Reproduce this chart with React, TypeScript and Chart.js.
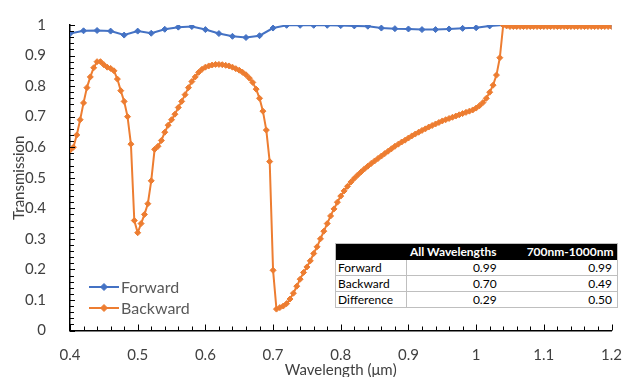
import React, { useEffect, useRef } from 'react';
import { Chart, registerables } from 'chart.js';

Chart.register(...registerables);

// ---------- DATA ----------
const forwardWavelengths = [
  0.40, 0.42, 0.44, 0.46, 0.48, 0.50, 0.52, 0.54, 0.56, 0.58,
  0.60, 0.62, 0.64, 0.66, 0.68, 0.70, 0.72, 0.74, 0.76, 0.78,
  0.80, 0.82, 0.84, 0.86, 0.88, 0.90, 0.92, 0.94, 0.96, 0.98,
  1.00, 1.02, 1.04, 1.06, 1.08, 1.10, 1.12, 1.14, 1.16, 1.18,
  1.20,
];
const forwardValues = [
  0.972, 0.981, 0.982, 0.980, 0.967, 0.980, 0.973, 0.986, 0.993, 0.995,
  0.985, 0.972, 0.963, 0.959, 0.965, 0.990, 0.999, 0.999, 0.999, 0.999,
  0.998, 0.997, 0.996, 0.990, 0.988, 0.987, 0.985, 0.985, 0.987, 0.989,
  0.991, 0.997, 1.000, 0.997, 0.997, 0.997, 0.997, 0.997, 0.997, 0.997,
  0.997,
];

// Backward sampled every 0.005 µm from 0.4 to 1.2
const backwardStart = 0.4;
const backwardStep = 0.005;
const backwardValues = [
  0.59, 0.60, 0.64, 0.69, 0.745, 0.795, 0.83, 0.86, 0.88, 0.88,
  0.87, 0.862, 0.858, 0.85, 0.823, 0.785, 0.75, 0.70, 0.61, 0.36,
  0.32, 0.35, 0.38, 0.415, 0.49, 0.593, 0.603, 0.622, 0.649, 0.672,
  0.69, 0.708, 0.73, 0.75, 0.772, 0.795, 0.815, 0.83, 0.845, 0.855,
  0.862, 0.866, 0.869, 0.871, 0.871, 0.87, 0.868, 0.866, 0.862, 0.857,
  0.852, 0.845, 0.837, 0.826, 0.812, 0.79, 0.76, 0.718, 0.656, 0.553,
  0.197, 0.07, 0.075, 0.08, 0.088, 0.103, 0.122, 0.145, 0.168, 0.19,
  0.208, 0.228, 0.252, 0.274, 0.30, 0.325, 0.35, 0.375, 0.398, 0.42,
  0.44, 0.457, 0.472, 0.486, 0.498, 0.509, 0.519, 0.529, 0.538, 0.547,
  0.555, 0.563, 0.571, 0.579, 0.587, 0.595, 0.603, 0.61, 0.617, 0.623,
  0.63, 0.637, 0.643, 0.649, 0.655, 0.66, 0.666, 0.671, 0.676, 0.681,
  0.686, 0.69, 0.694, 0.698, 0.702, 0.706, 0.71, 0.714, 0.718, 0.722,
  0.728, 0.736, 0.746, 0.76, 0.78, 0.803, 0.836, 0.893, 1.0, 0.997,
  0.995, 0.995, 0.995, 0.995, 0.995, 0.995, 0.995, 0.995, 0.995, 0.995,
  0.995, 0.995, 0.995, 0.995, 0.995, 0.995, 0.995, 0.995, 0.995, 0.995,
  0.995, 0.995, 0.995, 0.995, 0.995, 0.995, 0.995, 0.995, 0.995, 0.995,
  0.995,
];
const backwardWavelengths = backwardValues.map(
  (_, i) => Math.round((backwardStart + i * backwardStep) * 1000) / 1000
);

const seriesNames = ['Forward', 'Backward'];
const seriesColors = ['#4472C4', '#ED7D31'];

const tableHeaders = ['', 'All Wavelengths', '700nm-1000nm'];
const tableRowNames = ['Forward', 'Backward', 'Difference'];
const tableAllWavelengths = ['0.99', '0.70', '0.29'];
const table700to1000 = ['0.99', '0.49', '0.50'];

const xTitle = 'Wavelength (\u03bcm)';
const yTitle = 'Transmission';

// ---------- HELPERS ----------
const FONT = 'Lato, "Open Sans", sans-serif';
const TEXT = '#404040';
const isMajor = (v: number) => Math.abs(v * 10 - Math.round(v * 10)) < 1e-6;
const fmt = (v: number) => String(Math.round(v * 10) / 10);

const innerTicks = {
  id: 'innerTicks',
  afterDraw(chart: any) {
    const { ctx, chartArea: a } = chart;
    const xs = chart.scales.x;
    const ys = chart.scales.y;
    ctx.save();
    ctx.strokeStyle = '#000';
    ctx.lineWidth = 1;
    xs.ticks.forEach((t: any) => {
      const px = Math.round(xs.getPixelForValue(t.value)) + 0.5;
      const len = isMajor(t.value) ? 6 : 4;
      ctx.beginPath();
      ctx.moveTo(px, a.bottom);
      ctx.lineTo(px, a.bottom - len);
      ctx.stroke();
    });
    ys.ticks.forEach((t: any) => {
      const py = Math.round(ys.getPixelForValue(t.value)) + 0.5;
      const len = isMajor(t.value) ? 5 : 4;
      ctx.beginPath();
      ctx.moveTo(a.left, py);
      ctx.lineTo(a.left + len, py);
      ctx.stroke();
    });
    ctx.restore();
  },
};

function LegendMarker({ color }: { color: string }) {
  return (
    <svg width={30} height={12} style={{ display: 'block' }}>
      <line x1={0} y1={6} x2={30} y2={6} stroke={color} strokeWidth={2} />
      <polygon points="15,2.5 18.5,6 15,9.5 11.5,6" fill={color} stroke={color} strokeWidth={1} />
    </svg>
  );
}

export default function App() {
  const canvasRef = useRef<HTMLCanvasElement | null>(null);

  useEffect(() => {
    document.body.style.margin = '0';
    const canvas = canvasRef.current;
    if (!canvas) return;
    const chart = new Chart(canvas, {
      type: 'line',
      data: {
        datasets: [
          {
            label: seriesNames[0],
            data: forwardWavelengths.map((x, i) => ({ x, y: forwardValues[i] })),
            borderColor: seriesColors[0],
            backgroundColor: seriesColors[0],
            borderWidth: 2,
            pointStyle: 'rectRot',
            pointRadius: 3,
            pointBorderWidth: 1,
            tension: 0,
            order: 2,
          },
          {
            label: seriesNames[1],
            data: backwardWavelengths.map((x, i) => ({ x, y: backwardValues[i] })),
            borderColor: seriesColors[1],
            backgroundColor: seriesColors[1],
            borderWidth: 2,
            pointStyle: 'rectRot',
            pointRadius: 3,
            pointBorderWidth: 1,
            tension: 0,
            order: 1,
          },
        ],
      },
      options: {
        responsive: false,
        animation: false,
        devicePixelRatio: 1,
        layout: { padding: { left: 0, right: 12, top: 19, bottom: 0 } },
        plugins: {
          legend: { display: false },
          tooltip: { enabled: false },
        },
        scales: {
          x: {
            type: 'linear',
            min: 0.4,
            max: 1.2,
            afterFit: (s: any) => {
              s.height = 46.5;
            },
            ticks: {
              stepSize: 0.02,
              autoSkip: false,
              maxRotation: 0,
              minRotation: 0,
              padding: 8,
              color: TEXT,
              font: { family: FONT, size: 15 },
              callback: (v: any) => (isMajor(Number(v)) ? fmt(Number(v)) : ''),
            },
            grid: { display: false },
            border: { display: true, color: '#000', width: 1.5 },
            title: {
              display: true,
              text: xTitle,
              color: TEXT,
              font: { family: FONT, size: 15 },
              padding: { top: 0, bottom: -2 },
            },
          },
          y: {
            type: 'linear',
            min: 0,
            max: 1,
            afterFit: (s: any) => {
              s.width = 70;
            },
            ticks: {
              stepSize: 0.02,
              autoSkip: false,
              padding: 16,
              color: TEXT,
              font: { family: FONT, size: 15 },
              callback: (v: any) => (isMajor(Number(v)) ? fmt(Number(v)) : ''),
            },
            grid: { display: false },
            border: { display: true, color: '#000', width: 1.5 },
            title: {
              display: true,
              text: yTitle,
              color: TEXT,
              font: { family: FONT, size: 15 },
              padding: { top: 10, bottom: 0 },
            },
          },
        },
      },
      plugins: [innerTicks],
    } as any);
    return () => chart.destroy();
  }, []);

  const cell: React.CSSProperties = {
    padding: 0,
    height: 15,
    lineHeight: '15px',
    borderBottom: '1px solid #bfbfbf',
    whiteSpace: 'nowrap',
  };

  return (
    <div style={{ position: 'relative', width: 630, height: 377, overflow: 'hidden', background: '#fff' }}>
      <canvas ref={canvasRef} width={630} height={377} style={{ width: 630, height: 377, display: 'block' }} />

      <div
        style={{
          position: 'absolute',
          left: 89,
          top: 276,
          fontFamily: FONT,
          fontSize: 16,
          color: '#595959',
        }}
      >
        {seriesNames.map((name, i) => (
          <div key={name} style={{ display: 'flex', alignItems: 'center', height: 21 }}>
            <LegendMarker color={seriesColors[i]} />
            <span style={{ marginLeft: 2 }}>{name}</span>
          </div>
        ))}
      </div>

      <table
        style={{
          position: 'absolute',
          left: 335,
          top: 243,
          width: 283,
          borderCollapse: 'collapse',
          fontFamily: FONT,
          fontSize: 12,
          color: '#000',
          border: '1px solid #bfbfbf',
          background: '#fff',
        }}
      >
        <colgroup>
          <col style={{ width: 72 }} />
          <col style={{ width: 98 }} />
          <col style={{ width: 113 }} />
        </colgroup>
        <thead>
          <tr style={{ background: '#000', color: '#fff', fontWeight: 700 }}>
            <th style={{ ...cell, height: 16, lineHeight: '16px', borderBottom: 'none' }}>{tableHeaders[0]}</th>
            <th style={{ ...cell, height: 16, lineHeight: '16px', borderBottom: 'none', textAlign: 'left', paddingLeft: 3 }}>
              {tableHeaders[1]}
            </th>
            <th style={{ ...cell, height: 16, lineHeight: '16px', borderBottom: 'none', textAlign: 'left', paddingLeft: 22 }}>
              {tableHeaders[2]}
            </th>
          </tr>
        </thead>
        <tbody>
          {tableRowNames.map((name, i) => (
            <tr key={name}>
              <td style={{ ...cell, textAlign: 'left', paddingLeft: 2, borderRight: '1px solid #bfbfbf' }}>{name}</td>
              <td style={{ ...cell, textAlign: 'right', paddingRight: 8 }}>{tableAllWavelengths[i]}</td>
              <td style={{ ...cell, textAlign: 'right', paddingRight: 5 }}>{table700to1000[i]}</td>
            </tr>
          ))}
        </tbody>
      </table>
    </div>
  );
}
